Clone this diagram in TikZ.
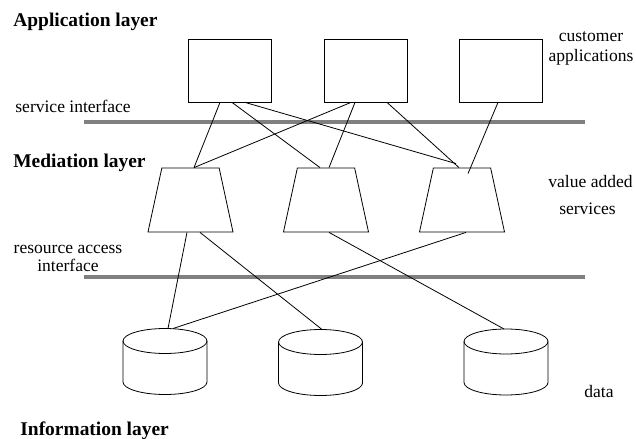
\documentclass[tikz,border=0pt]{standalone}
\usepackage{fontspec}
\setmainfont{Liberation Serif}
\usetikzlibrary{shapes.geometric}

% data store: x, y of the upper rim centre, name of its top point
\newcommand{\datastore}[3]{%
  \draw (#1,#2) ellipse [x radius=42, y radius=12.5];
  \draw (#1-42,#2) -- (#1-42,#2+41) arc[start angle=180, end angle=0, x radius=42, y radius=12.5] -- (#1+42,#2);
  \coordinate (#3) at (#1,#2-12.5);
}

\begin{document}
\begin{tikzpicture}[x=1bp, y=-1bp, line width=0.8bp,
    app/.style={draw, rectangle, minimum width=83bp, minimum height=63bp, inner sep=0pt},
    med/.style={draw, trapezium, trapezium stretches=true, trapezium angle=76.4,
        minimum width=85bp, minimum height=64bp, inner sep=1bp},
    iface/.style={line width=4bp, color=black!50},
    txt/.style={font=\fontsize{17.6}{20}\selectfont, inner sep=0pt},
    layer/.style={font=\fontsize{19.5}{22}\selectfont\bfseries, inner sep=0pt}]
    \useasboundingbox (0,0) rectangle (636,439);

    % layer titles
    \node[layer, anchor=base west] (tapp) at (13,27) {Application layer};
    \node[layer, anchor=base west] (tmed) at (13,168) {Mediation layer};
    \node[layer, anchor=base west] (tinf) at (20,435) {Information layer};

    % interfaces
    \draw[iface] (84,122) -- (585,122);
    \draw[iface] (84,277) -- (585,277);
    \node[txt, anchor=base west] (tsi) at (15,113) {service interface};
    \node[txt, anchor=base, align=center] (tra) at (68,272) {resource access\\[-1.6bp]interface};

    % customer applications
    \node[app] (app1) at (229.5,70.5) {};
    \node[app] (app2) at (365.5,70.5) {};
    \node[app] (app3) at (501,70.5) {};
    \node[txt, anchor=base, align=center] (tca) at (591,62) {customer\\[1bp]applications};

    % value added services
    \node[med] (med1) at (190.5,200) {};
    \node[med] (med2) at (326,200) {};
    \node[med] (med3) at (462,200) {};
    \node[txt, anchor=base] (tva) at (590.5,188) {value added};
    \node[txt, anchor=base] (tsv) at (587.5,215) {services};

    % data
    \datastore{165}{341}{db1}
    \datastore{320.5}{342}{db2}
    \datastore{506}{341.5}{db3}
    \node[txt, anchor=base west] (tdata) at (584,397) {data};

    % connections
    \draw ([xshift=-9.5bp]app1.south) -- ([xshift=3.5bp]med1.north);
    \draw ([xshift=2.5bp]app1.south) -- ([xshift=-6bp]med2.north);
    \draw ([xshift=15.5bp]app1.south) -- ([xshift=-6bp,yshift=4bp]med3.north);
    \draw ([xshift=-14.5bp]app2.south) -- ([xshift=3.5bp]med1.north);
    \draw ([xshift=-10.5bp]app2.south) -- ([xshift=3bp]med2.north);
    \draw ([xshift=21.5bp]app2.south) -- ([xshift=-3bp]med3.north);
    \draw ([xshift=-3bp]app3.south) -- ([xshift=6bp,yshift=-6bp]med3.north);

    \draw ([xshift=-3.5bp]med1.south) -- ([xshift=3bp]db1);
    \draw ([xshift=9.5bp]med1.south) -- ([xshift=1.5bp]db2);
    \draw ([xshift=3bp]med2.south) -- ([xshift=-2bp]db3);
    \draw ([xshift=4bp]med3.south) -- ([xshift=8bp]db1);
\end{tikzpicture}
\end{document}
